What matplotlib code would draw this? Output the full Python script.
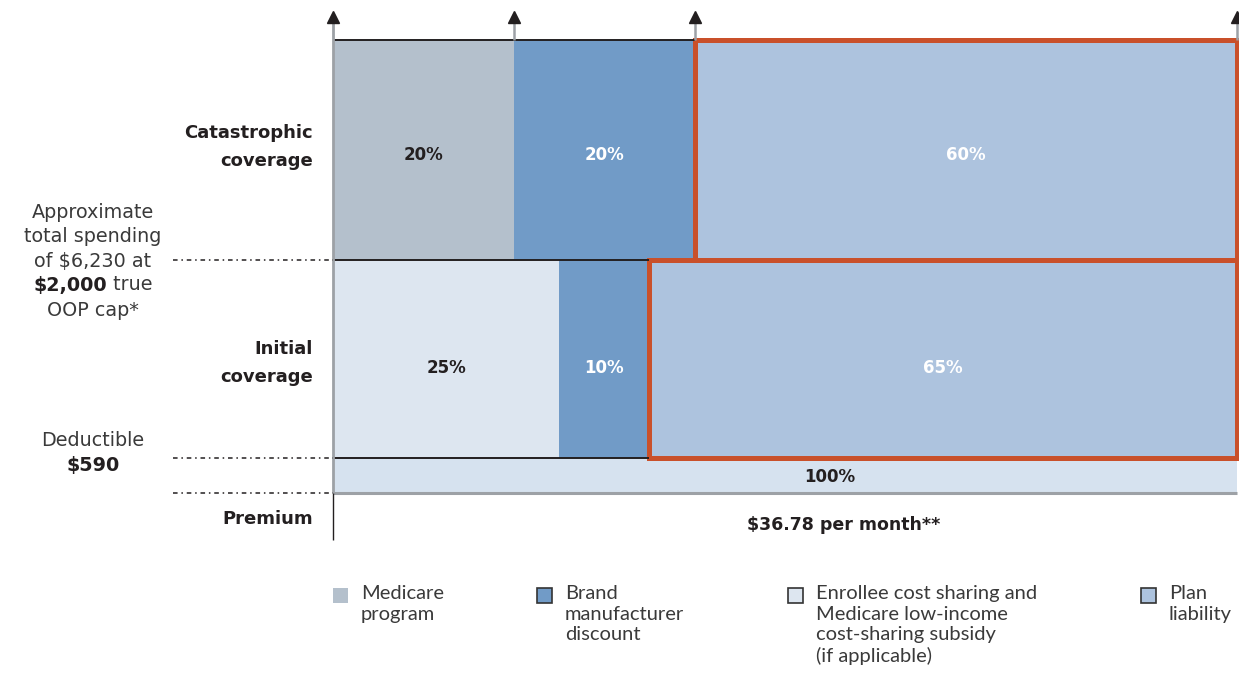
import matplotlib.pyplot as plt
from matplotlib.patches import Rectangle
import numpy as np

# tiers, top to bottom
tiers = ["Catastrophic\ncoverage", "Initial\ncoverage"]
first_share = [20, 25]        # Medicare program (catastrophic) / enrollee cost sharing (initial)
brand_share = [20, 10]        # brand manufacturer discount
plan_share = [60, 65]         # plan liability
first_kind = ["medicare", "enrollee"]
deductible_share = [100]

legend_labels = ["Medicare\nprogram",
                 "Brand\nmanufacturer\ndiscount",
                 "Enrollee cost sharing and\nMedicare low-income\ncost-sharing subsidy\n(if applicable)",
                 "Plan\nliability"]

# colours
colors = {"medicare": "#b4c0cc", "brand": "#719bc7", "enrollee": "#dde6f0",
          "plan": "#adc3de", "deductible": "#d6e2ef"}
red = "#c9502a"
ink = "#231f20"
axis_grey = "#9da1a6"

W, H = 1239, 674
PX = 9.04          # pixels per percentage point
X0 = 333           # pixel column of 0 %


def X(p):
    # pixel column -> data x
    return (p - X0) / PX


fig = plt.figure(figsize=(W / 100, H / 100), dpi=100)
ax = fig.add_axes([0, 0, 1, 1])
ax.set_xlim(X(0), X(W))
ax.set_ylim(H, 0)
ax.axis("off")

# vertical layout (pixels)
tier_top = [40, 260]
tier_bot = [260, 458]
label_dy = [-3, 4]
ded_top, ded_bot = 458, 493

for i in range(len(tiers)):
    yc = (tier_top[i] + tier_bot[i]) / 2
    ty = yc + 5 + (4 if i == 1 else 0)
    h = tier_bot[i] - tier_top[i]
    left = 0
    segs = [(first_share[i], colors[first_kind[i]], ink),
            (brand_share[i], colors["brand"], "white")]
    for val, col, tc in segs:
        ax.barh(yc, val, left=left, height=h, color=col, edgecolor="none", zorder=1)
        ax.text(left + val / 2, ty, f"{val}%", ha="center", va="center",
                fontsize=12, fontweight="bold", color=tc, zorder=5)
        left += val
    # black top border over the non-plan part
    ax.hlines(tier_top[i], 0, left, color=ink, lw=1.4, zorder=3)
    ax.barh(yc, plan_share[i], left=left, height=h, color=colors["plan"],
            edgecolor=red, linewidth=3.6, zorder=2)
    ax.text(left + plan_share[i] / 2, ty, f"{plan_share[i]}%", ha="center", va="center",
            fontsize=12, fontweight="bold", color="white", zorder=5)
    # tier label
    ax.text(X(313), yc + label_dy[i], tiers[i], ha="right", va="center", fontsize=13,
            fontweight="bold", color=ink, linespacing=1.75)

ax.hlines(tier_bot[-1], 0, first_share[-1] + brand_share[-1], color=ink, lw=1.4, zorder=3)

# deductible band
ax.barh((ded_top + ded_bot) / 2, deductible_share[0], left=0, height=ded_bot - ded_top,
        color=colors["deductible"], edgecolor="none", zorder=1)
ax.text(X(830), (ded_top + ded_bot) / 2 + 2, f"{deductible_share[0]}%", ha="center",
        va="center", fontsize=12, fontweight="bold", color=ink)
ax.hlines(ded_bot, 0, 100, color=axis_grey, lw=2.2, zorder=3)

# main vertical axis and arrows
ax.vlines(0, 22, ded_bot, color=axis_grey, lw=2, zorder=4)
ax.vlines(0, ded_bot, 540, color=ink, lw=1, zorder=4)
bounds = np.cumsum([0, first_share[0], brand_share[0], plan_share[0]])
for b in bounds:
    y_from = 22 if b == 0 else tier_top[0]
    ax.vlines(b, 20, y_from, color=axis_grey, lw=1.8, zorder=4)
    ax.plot(b, 17, marker="^", markersize=9, color=ink, zorder=6)

# dotted guide lines on the left
for y in [tier_bot[0], ded_top, ded_bot]:
    ax.hlines(y, X(173), 0, color=ink, lw=1.1, linestyles=(0, (3, 2.5, 1, 2.5)), zorder=4)

# left annotations
cx = X(93)
fs = 13.8
ax.text(cx, 213, "Approximate", ha="center", va="center", fontsize=fs, color="#3a3a3a")
ax.text(cx, 237, "total spending", ha="center", va="center", fontsize=fs, color="#3a3a3a")
ax.text(cx, 261, "of $6,230 at", ha="center", va="center", fontsize=fs, color="#3a3a3a")
rend = fig.canvas.get_renderer()
t1 = ax.text(0, 285, "$2,000", ha="left", va="center", fontsize=fs, fontweight="bold", color=ink)
t2 = ax.text(0, 285, " true", ha="left", va="center", fontsize=fs, color="#3a3a3a")
w1 = t1.get_window_extent(rend).width / PX
w2 = t2.get_window_extent(rend).width / PX
t1.set_x(cx - (w1 + w2) / 2)
t2.set_x(cx - (w1 + w2) / 2 + w1)
ax.text(cx, 310, "OOP cap*", ha="center", va="center", fontsize=fs, color="#3a3a3a")
ax.text(cx, 441, "Deductible", ha="center", va="center", fontsize=fs, color="#3a3a3a")
ax.text(cx, 466, "$590", ha="center", va="center", fontsize=fs, fontweight="bold", color=ink)

ax.text(X(313), 519, "Premium", ha="right", va="center", fontsize=13, fontweight="bold", color=ink)
ax.text(X(844), 525, "$36.78 per month**", ha="center", va="center", fontsize=12.5,
        fontweight="bold", color=ink)

# legend
legend_kinds = ["medicare", "brand", "enrollee", "plan"]
legend_x = [333, 537, 788, 1141]
for kind, lab, lx in zip(legend_kinds, legend_labels, legend_x):
    ec = "none" if kind == "medicare" else "#333333"
    ax.add_patch(Rectangle((X(lx), 588), 15 / PX, 15, facecolor=colors[kind],
                           edgecolor=ec, lw=1.2, zorder=5))
    ax.text(X(lx + 28), 585, lab, ha="left", va="top", fontsize=14.5, family="Lato",
            color="#3a3a3a", linespacing=1.26)

fig.savefig("out.png", dpi=100)
